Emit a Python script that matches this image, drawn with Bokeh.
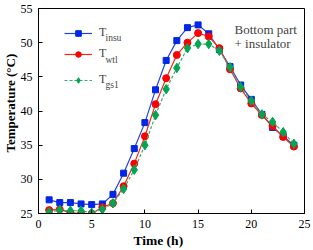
from bokeh.plotting import figure
from bokeh.models import Range1d, FixedTicker, Legend, LegendItem, Label, Title
from bokeh.embed import file_html
from bokeh.resources import INLINE

hours = list(range(1, 25))
t_insu = [27.0, 26.6, 26.6, 26.4, 26.3, 26.4, 27.8, 30.9, 34.5, 38.3, 43.1, 47.4,
          50.3, 52.2, 52.6, 51.3, 49.0, 46.5, 43.8, 41.7, 39.5, 37.6, 36.3, 35.0]
t_wt1 = [25.5, 25.6, 25.1, 25.0, 25.0, 25.9, 26.5, 29.0, 32.3, 36.3, 41.0, 44.8,
         48.2, 50.0, 51.4, 50.9, 49.2, 46.1, 43.3, 41.1, 39.4, 37.8, 36.2, 34.8]
t_gs1 = [25.2, 25.5, 25.4, 25.4, 25.1, 25.6, 26.5, 28.6, 31.4, 35.0, 39.4, 43.2,
         46.3, 49.2, 49.8, 49.8, 48.8, 46.4, 43.5, 41.5, 39.5, 38.4, 36.9, 35.2]
x_ticks = [0, 5, 10, 15, 20, 25]
y_ticks = [25, 30, 35, 40, 45, 50, 55]
x_label = "Time (h)"
y_label = "Temperature (\u00b0C)"
note_lines = ["Bottom part", "+ insulator"]
legend_main = "T"
legend_subs = ["insu", "wtl", "gs1"]

SERIF = "Liberation Serif"

p = figure(width=313, height=250, output_backend="svg", toolbar_location=None,
           x_range=Range1d(0, 25), y_range=Range1d(25, 55),
           min_border_left=38, min_border_right=9, min_border_top=8, min_border_bottom=37)
p.background_fill_color = "white"
p.border_fill_color = "white"
p.outline_line_color = "black"
p.outline_line_width = 1
p.xgrid.visible = False
p.ygrid.visible = False

for ax in (p.xaxis[0], p.yaxis[0]):
    ax.axis_line_color = "black"
    ax.major_tick_in = 4
    ax.major_tick_out = 0
    ax.minor_tick_line_color = None
    ax.major_label_text_font = SERIF
    ax.major_label_text_font_size = "12px"
    ax.major_label_text_color = "black"
p.xaxis.ticker = FixedTicker(ticks=x_ticks)
p.yaxis.ticker = FixedTicker(ticks=y_ticks)
p.xaxis.major_label_standoff = 6
p.yaxis.major_label_standoff = 6

# axis titles as side-panel titles
p.add_layout(Title(text=y_label, align="left", offset=61, standoff=0,
                   text_font=SERIF, text_font_size="13px", text_font_style="bold",
                   text_color="black"), "left")
p.add_layout(Title(text=x_label, align="left", offset=95, standoff=0,
                   text_font=SERIF, text_font_size="13.5px", text_font_style="bold",
                   text_color="black"), "below")

# series
l1 = p.line(hours, t_insu, line_color="#2046e0", line_width=1.2)
s1 = p.scatter(hours, t_insu, marker="square", size=6, fill_color="#0026e6", line_color="#0026e6")
l2 = p.line(hours, t_wt1, line_color="#f02818", line_width=1.2)
s2 = p.scatter(hours, t_wt1, marker="circle", size=7, fill_color="#ff0000", line_color="#ff0000")
l3 = p.line(hours, t_gs1, line_color="#30b070", line_width=1.2, line_dash="3 2")
s3 = p.scatter(hours, t_gs1, marker="diamond", size=9.5, fill_color="#00a651", line_color="#00a651")

rows = [([l1, s1], 172.7), ([l2, s2], 151.7), ([l3, s3], 126.0)]
sub_y = [175.7, 153.7, 128.7]
for (rends, vy), sub, sy in zip(rows, legend_subs, sub_y):
    lg = Legend(items=[LegendItem(label=legend_main, renderers=rends)],
                location=(26, vy), padding=0, margin=0, spacing=0,
                glyph_width=28, glyph_height=14, label_height=14, label_standoff=7,
                border_line_color=None, background_fill_alpha=0,
                label_text_font=SERIF, label_text_font_size="12px")
    p.add_layout(lg)
    p.add_layout(Label(x=67, y=sy, x_units="screen", y_units="screen", text=sub,
                       text_font=SERIF, text_font_size="9.5px", text_baseline="alphabetic"))

for txt, yy in zip(note_lines, [184.0, 169.7]):
    p.add_layout(Label(x=196, y=yy, x_units="screen", y_units="screen", text=txt,
                       text_font=SERIF, text_font_size="13px", text_baseline="alphabetic"))

open("out.html", "w").write(file_html(p, INLINE))
